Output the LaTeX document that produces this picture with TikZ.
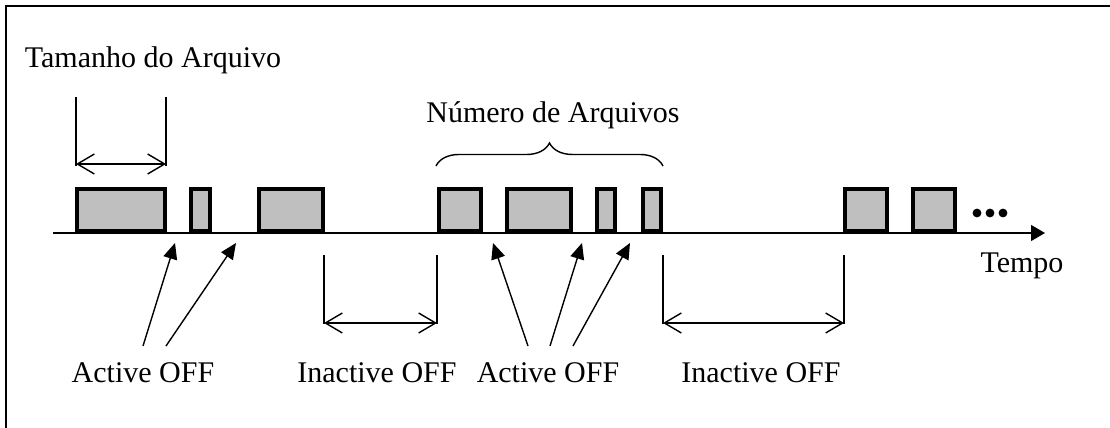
\documentclass[tikz,border=0pt]{standalone}
\usepackage{fontspec}
\setmainfont{Liberation Serif}
\usetikzlibrary{calc}
\usetikzlibrary{arrows.meta,decorations.pathreplacing}

\tikzset{
	arq/.style={draw, line width=1.8pt, fill=black!25, inner sep=0pt, minimum height=21.2pt},
	eixo/.style={line width=0.7pt, -{Triangle[length=7pt,width=8pt]}},
	linha/.style={line width=0.7pt},
	cota/.style={line width=0.7pt, {Straight Barb[length=8.5pt,width=10pt]}-{Straight Barb[length=8.5pt,width=10pt]}},
	seta/.style={line width=0.7pt, -{Triangle[length=8pt,width=7pt]}},
	chave/.style={line width=0.7pt, decorate, decoration={brace, amplitude=11.5pt}},
}

\begin{document}
\begin{tikzpicture}[x=0.5pt, y=0.5pt, font=\fontsize{15pt}{18pt}\selectfont]
			\useasboundingbox (0,0) rectangle (1110,428);

			% moldura (cortada a direita e embaixo)
			\coordinate (m0) at (6,0);
			\coordinate (m1) at (6,422);
			\coordinate (m2) at (1110,422);
			\draw[line width=1pt] (m0) -- (m1) -- (m2);

			% eixo do tempo
			\coordinate (t0) at (53,195);
			\coordinate (t1) at (1045,195);
			\draw[eixo] (t0) -- (t1);
			\node[anchor=base] (tempo) at (1022,155) {Tempo};

			% arquivos
			\foreach \a/\b [count=\i] in {75/167,189/212,257/325,437/483,505/573,595/617,641/663,843/889,911/957}
				\node[arq, minimum width={(\b-\a-3.6)*0.5pt}] (f\i) at ({(\a+\b)/2},218) {};
			\foreach \x in {977,990,1003}
				\fill (\x,215) circle (2.2pt);

			% tamanho do arquivo
			\node[anchor=base] (tam) at (153,360) {Tamanho do Arquivo};
			\coordinate (ta1) at (76,331);
			\coordinate (ta2) at (76,262);
			\coordinate (tb1) at (166,331);
			\coordinate (tb2) at (166,262);
			\draw[linha] (ta1) -- (ta2);
			\draw[linha] (tb1) -- (tb2);
			\draw[cota] ($(ta2)+(0,2)$) -- ($(tb2)+(0,2)$);

			% numero de arquivos
			\node[anchor=base] (num) at (553,305) {Número de Arquivos};
			\coordinate (b0) at (436,262);
			\coordinate (b1) at (663,262);
			\draw[chave] (b0) -- (b1);

			% inactive OFF
			\node[anchor=base] (ina1) at (377,45) {Inactive OFF};
			\coordinate (ia1) at (324,173);
			\coordinate (ia2) at (324,104);
			\coordinate (ib1) at (437,173);
			\coordinate (ib2) at (437,104);
			\draw[linha] (ia1) -- (ia2);
			\draw[linha] (ib1) -- (ib2);
			\draw[cota] ($(ia2)+(0,1)$) -- ($(ib2)+(0,1)$);

			\node[anchor=base] (ina2) at (761,45) {Inactive OFF};
			\coordinate (ic1) at (663,173);
			\coordinate (ic2) at (663,104);
			\coordinate (id1) at (844,173);
			\coordinate (id2) at (844,104);
			\draw[linha] (ic1) -- (ic2);
			\draw[linha] (id1) -- (id2);
			\draw[cota] ($(ic2)+(0,1)$) -- ($(id2)+(0,1)$);

			% active OFF
			\node[anchor=base] (act1) at (143,45) {Active OFF};
			\coordinate (g1) at (175,185);
			\coordinate (g2) at (236,185);
			\draw[seta] ($(act1.base)+(0,37)$) -- (g1);
			\draw[seta] ($(act1.base)+(23,37)$) -- (g2);

			\node[anchor=base] (act2) at (548,45) {Active OFF};
			\coordinate (g3) at (493,185);
			\coordinate (g4) at (582,185);
			\coordinate (g5) at (630,185);
			\draw[seta] ($(act2.base)+(-20,37)$) -- (g3);
			\draw[seta] ($(act2.base)+(2,37)$) -- (g4);
			\draw[seta] ($(act2.base)+(25,37)$) -- (g5);

		\end{tikzpicture}
\end{document}
